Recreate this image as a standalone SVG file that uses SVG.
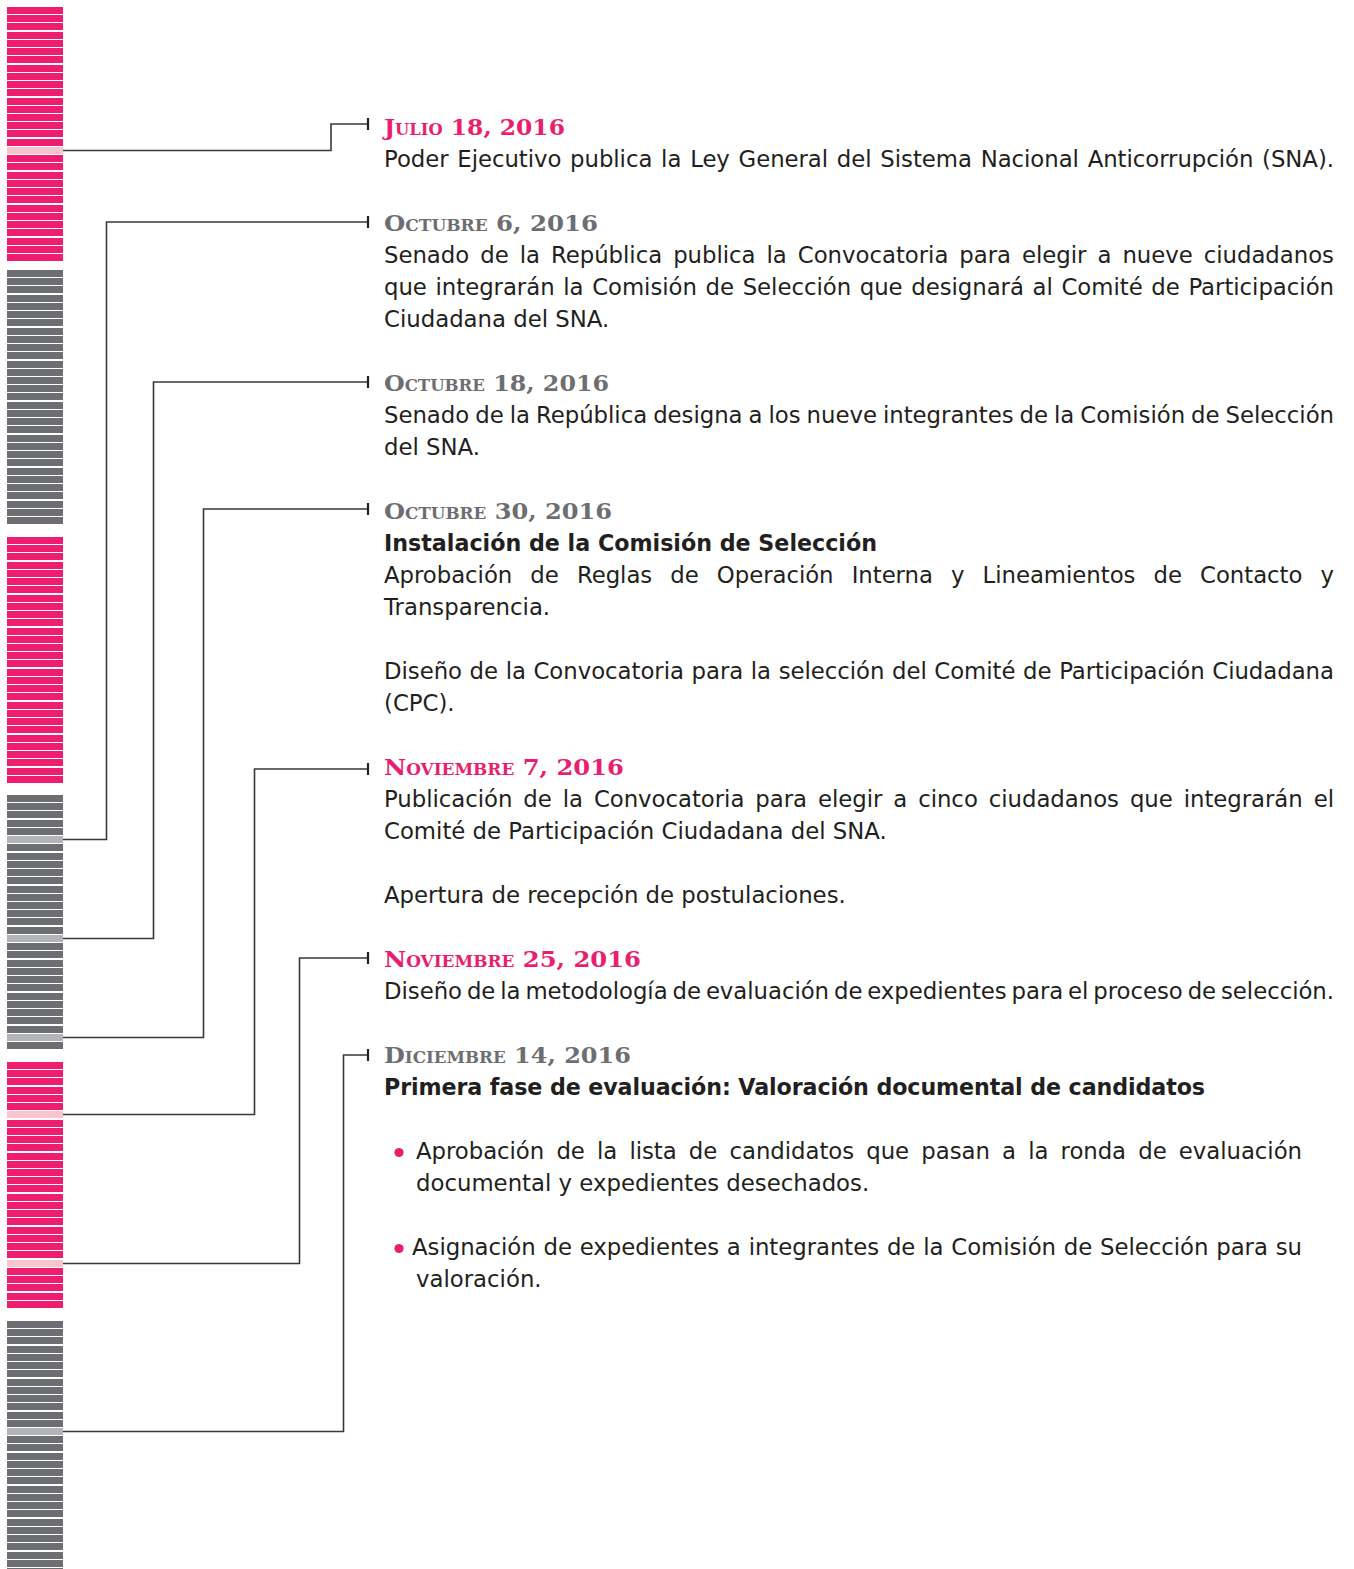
<svg xmlns="http://www.w3.org/2000/svg" width="1354" height="1569" viewBox="0 0 1354 1569">
<style>
.p{fill:#ee1d6f}.ph{fill:#f8c5ce}.g{fill:#6d6e71}.gh{fill:#b3b4b7}
.date{font-family:"DejaVu Serif","Liberation Serif",serif;font-weight:bold;font-variant:small-caps;font-size:23px}
.dp{fill:#e91e6e}.dg{fill:#6d6e71}
.body{font-family:"DejaVu Sans","Verdana",sans-serif;font-size:22.8px;fill:#231f20}
.bold{font-family:"DejaVu Sans","Verdana",sans-serif;font-size:22.2px;font-weight:bold;fill:#231f20}
.conn{fill:none;stroke:#383838;stroke-width:1.6;marker-end:url(#tick)}
.bul{fill:#e91e6e}
</style>
<defs>
<marker id="tick" viewBox="0 0 4 12" markerUnits="userSpaceOnUse" markerWidth="4" markerHeight="12" refX="2" refY="6" orient="auto">
<path d="M2 0V12" stroke="#222" stroke-width="2.2"/>
</marker>
</defs>
<g id="bars">
<g id="july">
<rect class="p" x="7" y="7" width="56" height="7"/><rect class="p" x="7" y="15" width="56" height="7"/><rect class="p" x="7" y="23" width="56" height="7"/><rect class="p" x="7" y="32" width="56" height="7"/><rect class="p" x="7" y="40" width="56" height="7"/><rect class="p" x="7" y="48" width="56" height="7"/><rect class="p" x="7" y="56" width="56" height="7"/><rect class="p" x="7" y="65" width="56" height="7"/><rect class="p" x="7" y="73" width="56" height="7"/><rect class="p" x="7" y="81" width="56" height="7"/><rect class="p" x="7" y="89" width="56" height="7"/><rect class="p" x="7" y="98" width="56" height="7"/><rect class="p" x="7" y="106" width="56" height="7"/><rect class="p" x="7" y="114" width="56" height="7"/><rect class="p" x="7" y="122" width="56" height="7"/><rect class="p" x="7" y="130" width="56" height="7"/><rect class="p" x="7" y="139" width="56" height="7"/><rect class="ph" x="7" y="147" width="56" height="7"/><rect class="p" x="7" y="155" width="56" height="7"/><rect class="p" x="7" y="163" width="56" height="7"/><rect class="p" x="7" y="172" width="56" height="7"/><rect class="p" x="7" y="180" width="56" height="7"/><rect class="p" x="7" y="188" width="56" height="7"/><rect class="p" x="7" y="196" width="56" height="7"/><rect class="p" x="7" y="205" width="56" height="7"/><rect class="p" x="7" y="213" width="56" height="7"/><rect class="p" x="7" y="221" width="56" height="7"/><rect class="p" x="7" y="229" width="56" height="7"/><rect class="p" x="7" y="238" width="56" height="7"/><rect class="p" x="7" y="246" width="56" height="7"/><rect class="p" x="7" y="254" width="56" height="7"/>
</g>
<g id="august">
<rect class="g" x="7" y="270" width="56" height="7"/><rect class="g" x="7" y="278" width="56" height="7"/><rect class="g" x="7" y="286" width="56" height="7"/><rect class="g" x="7" y="295" width="56" height="7"/><rect class="g" x="7" y="303" width="56" height="7"/><rect class="g" x="7" y="311" width="56" height="7"/><rect class="g" x="7" y="319" width="56" height="7"/><rect class="g" x="7" y="328" width="56" height="7"/><rect class="g" x="7" y="336" width="56" height="7"/><rect class="g" x="7" y="344" width="56" height="7"/><rect class="g" x="7" y="352" width="56" height="7"/><rect class="g" x="7" y="361" width="56" height="7"/><rect class="g" x="7" y="369" width="56" height="7"/><rect class="g" x="7" y="377" width="56" height="7"/><rect class="g" x="7" y="385" width="56" height="7"/><rect class="g" x="7" y="393" width="56" height="7"/><rect class="g" x="7" y="402" width="56" height="7"/><rect class="g" x="7" y="410" width="56" height="7"/><rect class="g" x="7" y="418" width="56" height="7"/><rect class="g" x="7" y="426" width="56" height="7"/><rect class="g" x="7" y="435" width="56" height="7"/><rect class="g" x="7" y="443" width="56" height="7"/><rect class="g" x="7" y="451" width="56" height="7"/><rect class="g" x="7" y="459" width="56" height="7"/><rect class="g" x="7" y="468" width="56" height="7"/><rect class="g" x="7" y="476" width="56" height="7"/><rect class="g" x="7" y="484" width="56" height="7"/><rect class="g" x="7" y="492" width="56" height="7"/><rect class="g" x="7" y="501" width="56" height="7"/><rect class="g" x="7" y="509" width="56" height="7"/><rect class="g" x="7" y="517" width="56" height="7"/>
</g>
<g id="september">
<rect class="p" x="7" y="537" width="56" height="7"/><rect class="p" x="7" y="545" width="56" height="7"/><rect class="p" x="7" y="553" width="56" height="7"/><rect class="p" x="7" y="562" width="56" height="7"/><rect class="p" x="7" y="570" width="56" height="7"/><rect class="p" x="7" y="578" width="56" height="7"/><rect class="p" x="7" y="586" width="56" height="7"/><rect class="p" x="7" y="595" width="56" height="7"/><rect class="p" x="7" y="603" width="56" height="7"/><rect class="p" x="7" y="611" width="56" height="7"/><rect class="p" x="7" y="619" width="56" height="7"/><rect class="p" x="7" y="628" width="56" height="7"/><rect class="p" x="7" y="636" width="56" height="7"/><rect class="p" x="7" y="644" width="56" height="7"/><rect class="p" x="7" y="652" width="56" height="7"/><rect class="p" x="7" y="660" width="56" height="7"/><rect class="p" x="7" y="669" width="56" height="7"/><rect class="p" x="7" y="677" width="56" height="7"/><rect class="p" x="7" y="685" width="56" height="7"/><rect class="p" x="7" y="693" width="56" height="7"/><rect class="p" x="7" y="702" width="56" height="7"/><rect class="p" x="7" y="710" width="56" height="7"/><rect class="p" x="7" y="718" width="56" height="7"/><rect class="p" x="7" y="726" width="56" height="7"/><rect class="p" x="7" y="735" width="56" height="7"/><rect class="p" x="7" y="743" width="56" height="7"/><rect class="p" x="7" y="751" width="56" height="7"/><rect class="p" x="7" y="759" width="56" height="7"/><rect class="p" x="7" y="768" width="56" height="7"/><rect class="p" x="7" y="776" width="56" height="7"/>
</g>
<g id="october">
<rect class="g" x="7" y="795" width="56" height="7"/><rect class="g" x="7" y="803" width="56" height="7"/><rect class="g" x="7" y="811" width="56" height="7"/><rect class="g" x="7" y="820" width="56" height="7"/><rect class="g" x="7" y="828" width="56" height="7"/><rect class="gh" x="7" y="836" width="56" height="7"/><rect class="g" x="7" y="844" width="56" height="7"/><rect class="g" x="7" y="853" width="56" height="7"/><rect class="g" x="7" y="861" width="56" height="7"/><rect class="g" x="7" y="869" width="56" height="7"/><rect class="g" x="7" y="877" width="56" height="7"/><rect class="g" x="7" y="886" width="56" height="7"/><rect class="g" x="7" y="894" width="56" height="7"/><rect class="g" x="7" y="902" width="56" height="7"/><rect class="g" x="7" y="910" width="56" height="7"/><rect class="g" x="7" y="918" width="56" height="7"/><rect class="g" x="7" y="927" width="56" height="7"/><rect class="gh" x="7" y="935" width="56" height="7"/><rect class="g" x="7" y="943" width="56" height="7"/><rect class="g" x="7" y="951" width="56" height="7"/><rect class="g" x="7" y="960" width="56" height="7"/><rect class="g" x="7" y="968" width="56" height="7"/><rect class="g" x="7" y="976" width="56" height="7"/><rect class="g" x="7" y="984" width="56" height="7"/><rect class="g" x="7" y="993" width="56" height="7"/><rect class="g" x="7" y="1001" width="56" height="7"/><rect class="g" x="7" y="1009" width="56" height="7"/><rect class="g" x="7" y="1017" width="56" height="7"/><rect class="g" x="7" y="1026" width="56" height="7"/><rect class="gh" x="7" y="1034" width="56" height="7"/><rect class="g" x="7" y="1042" width="56" height="7"/>
</g>
<g id="november">
<rect class="p" x="7" y="1062" width="56" height="7"/><rect class="p" x="7" y="1070" width="56" height="7"/><rect class="p" x="7" y="1078" width="56" height="7"/><rect class="p" x="7" y="1087" width="56" height="7"/><rect class="p" x="7" y="1095" width="56" height="7"/><rect class="p" x="7" y="1103" width="56" height="7"/><rect class="ph" x="7" y="1111" width="56" height="7"/><rect class="p" x="7" y="1120" width="56" height="7"/><rect class="p" x="7" y="1128" width="56" height="7"/><rect class="p" x="7" y="1136" width="56" height="7"/><rect class="p" x="7" y="1144" width="56" height="7"/><rect class="p" x="7" y="1153" width="56" height="7"/><rect class="p" x="7" y="1161" width="56" height="7"/><rect class="p" x="7" y="1169" width="56" height="7"/><rect class="p" x="7" y="1177" width="56" height="7"/><rect class="p" x="7" y="1185" width="56" height="7"/><rect class="p" x="7" y="1194" width="56" height="7"/><rect class="p" x="7" y="1202" width="56" height="7"/><rect class="p" x="7" y="1210" width="56" height="7"/><rect class="p" x="7" y="1218" width="56" height="7"/><rect class="p" x="7" y="1227" width="56" height="7"/><rect class="p" x="7" y="1235" width="56" height="7"/><rect class="p" x="7" y="1243" width="56" height="7"/><rect class="p" x="7" y="1251" width="56" height="7"/><rect class="ph" x="7" y="1260" width="56" height="7"/><rect class="p" x="7" y="1268" width="56" height="7"/><rect class="p" x="7" y="1276" width="56" height="7"/><rect class="p" x="7" y="1284" width="56" height="7"/><rect class="p" x="7" y="1293" width="56" height="7"/><rect class="p" x="7" y="1301" width="56" height="7"/>
</g>
<g id="december">
<rect class="g" x="7" y="1321" width="56" height="7"/><rect class="g" x="7" y="1329" width="56" height="7"/><rect class="g" x="7" y="1337" width="56" height="7"/><rect class="g" x="7" y="1346" width="56" height="7"/><rect class="g" x="7" y="1354" width="56" height="7"/><rect class="g" x="7" y="1362" width="56" height="7"/><rect class="g" x="7" y="1370" width="56" height="7"/><rect class="g" x="7" y="1379" width="56" height="7"/><rect class="g" x="7" y="1387" width="56" height="7"/><rect class="g" x="7" y="1395" width="56" height="7"/><rect class="g" x="7" y="1403" width="56" height="7"/><rect class="g" x="7" y="1412" width="56" height="7"/><rect class="g" x="7" y="1420" width="56" height="7"/><rect class="gh" x="7" y="1428" width="56" height="7"/><rect class="g" x="7" y="1436" width="56" height="7"/><rect class="g" x="7" y="1444" width="56" height="7"/><rect class="g" x="7" y="1453" width="56" height="7"/><rect class="g" x="7" y="1461" width="56" height="7"/><rect class="g" x="7" y="1469" width="56" height="7"/><rect class="g" x="7" y="1477" width="56" height="7"/><rect class="g" x="7" y="1486" width="56" height="7"/><rect class="g" x="7" y="1494" width="56" height="7"/><rect class="g" x="7" y="1502" width="56" height="7"/><rect class="g" x="7" y="1510" width="56" height="7"/><rect class="g" x="7" y="1519" width="56" height="7"/><rect class="g" x="7" y="1527" width="56" height="7"/><rect class="g" x="7" y="1535" width="56" height="7"/><rect class="g" x="7" y="1543" width="56" height="7"/><rect class="g" x="7" y="1552" width="56" height="7"/><rect class="g" x="7" y="1560" width="56" height="7"/><rect class="g" x="7" y="1568" width="56" height="7"/>
</g>
</g>
<g id="connectors">
<path class="conn" d="M63 150.5H331V124H368"/>
<path class="conn" d="M63 839.5H106.5V222H368"/>
<path class="conn" d="M63 938.5H153.5V382H368"/>
<path class="conn" d="M63 1037.5H203.5V509H368"/>
<path class="conn" d="M63 1114.5H254.5V769H368"/>
<path class="conn" d="M63 1263.5H299.5V958H368"/>
<path class="conn" d="M63 1431.5H343.5V1055H368"/>
</g>
<g id="ev-jul18">
<text class="date dp" x="384" y="134.5" textLength="181" lengthAdjust="spacingAndGlyphs">Julio 18, 2016</text>
<text class="body" x="384" y="166.5" style="word-spacing:1.6px" textLength="950" lengthAdjust="spacing">Poder Ejecutivo publica la Ley General del Sistema Nacional Anticorrupción (SNA).</text>
</g>
<g id="ev-oct6">
<text class="date dg" x="384" y="230.5" textLength="214" lengthAdjust="spacingAndGlyphs">Octubre 6, 2016</text>
<text class="body" x="384" y="262.5" style="word-spacing:3.8px" textLength="950" lengthAdjust="spacing">Senado de la República publica la Convocatoria para elegir a nueve ciudadanos</text>
<text class="body" x="384" y="294.5" style="word-spacing:1.44px" textLength="950" lengthAdjust="spacing">que integrarán la Comisión de Selección que designará al Comité de Participación</text>
<text class="body" x="384" y="326.5">Ciudadana del SNA.</text>
</g>
<g id="ev-oct18">
<text class="date dg" x="384" y="390.5" textLength="225" lengthAdjust="spacingAndGlyphs">Octubre 18, 2016</text>
<text class="body" x="384" y="422.5" style="word-spacing:-1.22px" textLength="950" lengthAdjust="spacing">Senado de la República designa a los nueve integrantes de la Comisión de Selección</text>
<text class="body" x="384" y="454.5">del SNA.</text>
</g>
<g id="ev-oct30">
<text class="date dg" x="384" y="518.5" textLength="228" lengthAdjust="spacingAndGlyphs">Octubre 30, 2016</text>
<text class="bold" x="384" y="550.5">Instalación de la Comisión de Selección</text>
<text class="body" x="384" y="582.5" style="word-spacing:10.9px" textLength="950" lengthAdjust="spacing">Aprobación de Reglas de Operación Interna y Lineamientos de Contacto y</text>
<text class="body" x="384" y="614.5">Transparencia.</text>
<text class="body" x="384" y="678.5" style="word-spacing:0.4px" textLength="950" lengthAdjust="spacing">Diseño de la Convocatoria para la selección del Comité de Participación Ciudadana</text>
<text class="body" x="384" y="710.5">(CPC).</text>
</g>
<g id="ev-nov7">
<text class="date dp" x="384" y="774.5" textLength="240" lengthAdjust="spacingAndGlyphs">Noviembre 7, 2016</text>
<text class="body" x="384" y="806.5" style="word-spacing:3.75px" textLength="950" lengthAdjust="spacing">Publicación de la Convocatoria para elegir a cinco ciudadanos que integrarán el</text>
<text class="body" x="384" y="838.5">Comité de Participación Ciudadana del SNA.</text>
<text class="body" x="384" y="902.5">Apertura de recepción de postulaciones.</text>
</g>
<g id="ev-nov25">
<text class="date dp" x="384" y="966.5" textLength="257" lengthAdjust="spacingAndGlyphs">Noviembre 25, 2016</text>
<text class="body" x="384" y="998.5" style="word-spacing:-2.28px" textLength="950" lengthAdjust="spacing">Diseño de la metodología de evaluación de expedientes para el proceso de selección.</text>
</g>
<g id="ev-dec14">
<text class="date dg" x="384" y="1062.5" textLength="247" lengthAdjust="spacingAndGlyphs">Diciembre 14, 2016</text>
<text class="bold" x="384" y="1094.5" textLength="821" lengthAdjust="spacing">Primera fase de evaluación: Valoración documental de candidatos</text>
<circle class="bul" cx="399" cy="1152.5" r="4.6"/>
<text class="body" x="416" y="1158.5" style="word-spacing:5px" textLength="886" lengthAdjust="spacing">Aprobación de la lista de candidatos que pasan a la ronda de evaluación</text>
<text class="body" x="416" y="1190.5">documental y expedientes desechados.</text>
<circle class="bul" cx="399" cy="1248.5" r="4.6"/>
<text class="body" x="412" y="1254.5" style="word-spacing:0.62px" textLength="890" lengthAdjust="spacing">Asignación de expedientes a integrantes de la Comisión de Selección para su</text>
<text class="body" x="416" y="1286.5">valoración.</text>
</g>
</svg>
